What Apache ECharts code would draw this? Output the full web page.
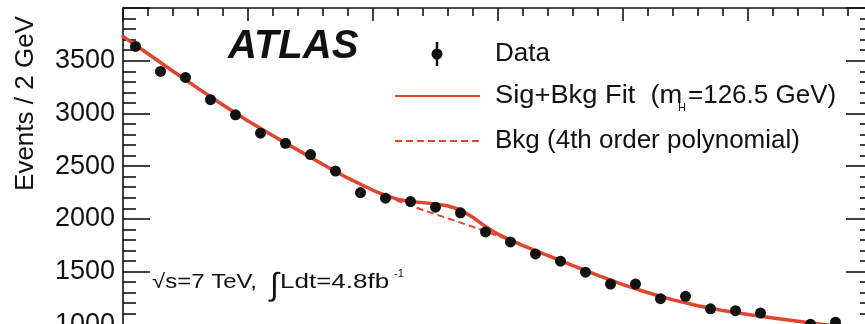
<!DOCTYPE html>
<html>
<head>
<meta charset="utf-8">
<script src="https://cdn.jsdelivr.net/npm/echarts@6/dist/echarts.min.js"></script>
<style>
html,body{margin:0;padding:0;background:#fff;}
#chart{width:865px;height:324px;}
</style>
</head>
<body>
<div id="chart"></div>
<script>
// Data points (bin centres, GeV) and events / 2 GeV
const mass = [101,103,105,107,109,111,113,115,117,119,121,123,125,127,129,131,133,135,137,139,141,143,145,147,149,151,153,155,157];
const events = [3636,3398,3341,3130,2987,2813,2717,2610,2453,2249,2196,2164,2111,2057,1876,1781,1667,1599,1494,1382,1382,1243,1265,1147,1129,1107,940,1000,1020];

// Fit curves
const fitMass = [100,102,104,106,108,110,112,114,116,118,120,121,122,123,124,125,126,127,128,129,130,131,132,134,136,138,140,142,144,146,148,150,152,154,156,158,160];
const sigBkg  = [3731,3566,3400,3238,3080,2928,2788,2652,2516,2386,2271,2223,2185,2165,2154,2142,2122,2086,2014,1927,1855,1799,1747,1652,1557,1464,1377,1299,1232,1176,1130,1093,1059,1028,999,972,946];
const bkgOnly = [3731,3566,3400,3238,3080,2928,2788,2652,2516,2386,2270,2219,2170,2127,2084,2044,2004,1964,1924,1882,1838,1793,1746,1652,1557,1464,1377,1299,1232,1176,1130,1093,1059,1028,999,972,946];

const yTickLabels = [1000,1500,2000,2500,3000,3500];

const FONT = 'Liberation Sans, Arial, Helvetica, sans-serif';
const RED = '#e0452d';
const INK = '#111111';

const chart = echarts.init(document.getElementById('chart'));

function yAxisDef(pos, showLabels) {
  return {
    type: 'value', position: pos, min: 1000, max: 4000, interval: 500,
    axisLine: {show: true, lineStyle: {color: INK, width: 1.6}},
    axisTick: {show: true, inside: true, length: 27, lineStyle: {color: INK, width: 1.6}},
    minorTick: {show: true, splitNumber: 5, length: 13, lineStyle: {color: INK, width: 1.6}},
    splitLine: {show: false},
    axisLabel: {show: showLabels, margin: 8, color: INK, fontSize: 27, fontFamily: FONT,
      formatter: v => (yTickLabels.indexOf(v) >= 0 ? String(v) : '')}
  };
}

const option = {
  animation: false,
  backgroundColor: '#ffffff',
  grid: {left: 123, top: 8, width: 750, height: 316.3, outerBoundsMode: 'none'},
  xAxis: [
    {type: 'value', position: 'bottom', min: 100, max: 160, show: false},
    {type: 'value', position: 'top', min: 100, max: 160, interval: 10,
     axisLine: {show: true, onZero: false, lineStyle: {color: INK, width: 1.6}},
     axisTick: {show: true, inside: true, length: 13, lineStyle: {color: INK, width: 1.6}},
     minorTick: {show: true, splitNumber: 5, length: 8, lineStyle: {color: INK, width: 1.6}},
     axisLabel: {show: false}, splitLine: {show: false}}
  ],
  yAxis: [yAxisDef('left', true), yAxisDef('right', false)],
  series: [
    {name: 'Bkg (4th order polynomial)', type: 'line', xAxisIndex: 0, yAxisIndex: 0,
     data: fitMass.map((m, i) => [m, bkgOnly[i]]), smooth: false,
     showSymbol: false, symbol: 'none', z: 2,
     lineStyle: {color: RED, width: 2, type: [7, 4]}},
    {name: 'Sig+Bkg Fit', type: 'line', xAxisIndex: 0, yAxisIndex: 0,
     data: fitMass.map((m, i) => [m, sigBkg[i]]), smooth: false,
     showSymbol: false, symbol: 'none', z: 3,
     lineStyle: {color: RED, width: 3.5, join: 'round', cap: 'round'}},
    {name: 'Data', type: 'scatter', xAxisIndex: 0, yAxisIndex: 0,
     data: mass.map((m, i) => [m, events[i]]), symbol: 'circle', symbolSize: 11, z: 5,
     itemStyle: {color: INK, opacity: 1}}
  ],
  graphic: [
    {type: 'text', x: 26, y: 103.5, rotation: Math.PI / 2, z: 10,
     style: {text: 'Events / 2 GeV', fontSize: 26, fontFamily: FONT, fill: INK, align: 'center', verticalAlign: 'middle'}},
    {type: 'text', x: 228, y: 47, z: 10,
     style: {text: 'ATLAS', fontSize: 40, fontWeight: 'bold', fontStyle: 'italic', fontFamily: FONT, fill: INK, align: 'left', verticalAlign: 'middle'}},
    // legend: Data
    {type: 'line', z: 10, shape: {x1: 437, y1: 42, x2: 437, y2: 66}, style: {stroke: INK, lineWidth: 2.5}},
    {type: 'circle', z: 10, shape: {cx: 437, cy: 54, r: 5.5}, style: {fill: INK}},
    {type: 'text', x: 495, y: 54, z: 10,
     style: {text: 'Data', fontSize: 26, fontFamily: FONT, fill: INK, align: 'left', verticalAlign: 'middle'}},
    // legend: Sig+Bkg
    {type: 'line', z: 10, shape: {x1: 395, y1: 96, x2: 480, y2: 96}, style: {stroke: RED, lineWidth: 2}},
    {type: 'text', x: 495, y: 96, scaleX: 1.05, z: 10,
     style: {text: 'Sig+Bkg Fit  (m', fontSize: 26, fontFamily: FONT, fill: INK, align: 'left', verticalAlign: 'middle'}},
    {type: 'text', x: 678, y: 108, z: 10,
     style: {text: 'H', fontSize: 11, fontFamily: FONT, fill: INK, align: 'left', verticalAlign: 'middle'}},
    {type: 'text', x: 688, y: 96, z: 10,
     style: {text: '=126.5 GeV)', fontSize: 26, fontFamily: FONT, fill: INK, align: 'left', verticalAlign: 'middle'}},
    // legend: Bkg
    {type: 'line', z: 10, shape: {x1: 395, y1: 141, x2: 480, y2: 141}, style: {stroke: RED, lineWidth: 2, lineDash: [7, 4]}},
    {type: 'text', x: 495, y: 141, z: 10,
     style: {text: 'Bkg (4th order polynomial)', fontSize: 26, fontFamily: FONT, fill: INK, align: 'left', verticalAlign: 'middle'}},
    // energy / luminosity
    {type: 'text', x: 152, y: 282, scaleX: 1.2, z: 10,
     style: {text: '√s=7 TeV,', fontSize: 20, fontFamily: FONT, fill: INK, align: 'left', verticalAlign: 'middle'}},
    {type: 'text', x: 270, y: 286, z: 10,
     style: {text: '∫', fontSize: 32, fontFamily: FONT, fill: INK, align: 'left', verticalAlign: 'middle'}},
    {type: 'text', x: 280, y: 282, scaleX: 1.3, z: 10,
     style: {text: 'Ldt=4.8fb', fontSize: 20, fontFamily: FONT, fill: INK, align: 'left', verticalAlign: 'middle'}},
    {type: 'text', x: 394, y: 274, z: 10,
     style: {text: '-1', fontSize: 11, fontFamily: FONT, fill: INK, align: 'left', verticalAlign: 'middle'}}
  ]
};
chart.setOption(option);
</script>
</body>
</html>
